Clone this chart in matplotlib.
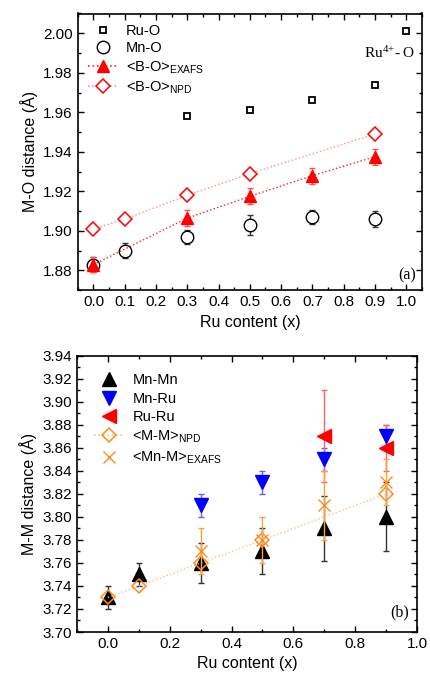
import matplotlib
matplotlib.use("Agg")
import matplotlib.pyplot as plt
from matplotlib.ticker import MultipleLocator
from matplotlib.lines import Line2D

plt.rcParams['font.family'] = ['Liberation Sans', 'DejaVu Sans']
plt.rcParams['mathtext.fontset'] = 'custom'
plt.rcParams['mathtext.rm'] = 'Liberation Sans'

# ---- panel (a) data ----
ruo_x = [0.3, 0.5, 0.7, 0.9, 1.0]
ruo_y = [1.958, 1.961, 1.966, 1.974, 2.001]
ruo_e = [0.001, 0.001, 0.001, 0.001, 0.001]

mno_x = [0.0, 0.1, 0.3, 0.5, 0.7, 0.9]
mno_y = [1.883, 1.890, 1.897, 1.903, 1.907, 1.906]
mno_e = [0.004, 0.0037, 0.0035, 0.005, 0.0037, 0.004]

boex_x = [0.0, 0.3, 0.5, 0.7, 0.9]
boex_y = [1.883, 1.9065, 1.9175, 1.928, 1.9375]
boex_e = [0.004, 0.004, 0.004, 0.004, 0.004]

bonpd_x = [0.0, 0.1, 0.3, 0.5, 0.9]
bonpd_y = [1.901, 1.906, 1.918, 1.929, 1.949]

# ---- panel (b) data ----
mnmn_x = [0.0, 0.1, 0.3, 0.5, 0.7, 0.9]
mnmn_y = [3.73, 3.75, 3.76, 3.77, 3.79, 3.80]
mnmn_e = [0.01, 0.01, 0.017, 0.02, 0.028, 0.03]

mnru_x = [0.3, 0.5, 0.7, 0.9]
mnru_y = [3.81, 3.83, 3.85, 3.87]
mnru_e = [0.01, 0.01, 0.01, 0.01]

ruru_x = [0.7, 0.9]
ruru_y = [3.87, 3.86]
ruru_e = [0.04, 0.02]

mmnpd_x = [0.0, 0.1, 0.3, 0.5, 0.9]
mmnpd_y = [3.73, 3.74, 3.76, 3.78, 3.82]

mnmex_x = [0.3, 0.5, 0.7, 0.9]
mnmex_y = [3.77, 3.78, 3.81, 3.83]
mnmex_e = [0.02, 0.02, 0.03, 0.02]

fig = plt.figure(figsize=(4.3, 6.75), dpi=100)
ax1 = fig.add_axes([0.181, 0.570, 0.800, 0.410])
ax2 = fig.add_axes([0.179, 0.0637, 0.791, 0.409])

orange = '#FF8C1A'
cs = 2.5

# panel a
ax1.errorbar(ruo_x, ruo_y, yerr=ruo_e, fmt='s', ms=5, mfc='white', mec='black',
             mew=1.3, ecolor='#333333', elinewidth=1, capsize=cs, zorder=3)
ax1.errorbar(mno_x, mno_y, yerr=mno_e, fmt='o', ms=9, mfc='white', mec='black',
             mew=1.0, ecolor='#333333', elinewidth=1, capsize=cs, zorder=3)
ax1.errorbar(boex_x, boex_y, yerr=boex_e, fmt='^', ls=':', lw=1, color='#FF2020',
             ms=9, mfc='red', mec='red', ecolor='#FF5050', elinewidth=1, capsize=cs,
             zorder=4)
ax1.plot(bonpd_x, bonpd_y, marker='D', ls=':', lw=1, color='#FF9090', ms=7,
         mfc='white', mec='red', mew=1.1, zorder=3)

h1 = [
    Line2D([], [], ls='none', marker='s', ms=5, mfc='white', mec='black', mew=1.3),
    Line2D([], [], ls='none', marker='o', ms=9, mfc='white', mec='black', mew=1.0),
    Line2D([], [], ls=':', lw=1.2, color='#FF2020', marker='^', ms=9, mfc='red', mec='red'),
    Line2D([], [], ls=':', lw=1.2, color='#FF9090', marker='D', ms=7, mfc='white', mec='red', mew=1.1),
]
l1 = ['Ru-O', 'Mn-O', r'<B-O>$_{\mathregular{EXAFS}}$', r'<B-O>$_{\mathregular{NPD}}$']

ax1.set_xlim(-0.05, 1.05)
ax1.set_ylim(1.87, 2.01)
ax1.xaxis.set_major_locator(MultipleLocator(0.1))
ax1.xaxis.set_minor_locator(MultipleLocator(0.05))
ax1.yaxis.set_major_locator(MultipleLocator(0.02))
ax1.yaxis.set_minor_locator(MultipleLocator(0.01))
ax1.set_xlabel('Ru content (x)', fontsize=11.5)
ax1.set_ylabel('M-O distance (Å)', fontsize=11.5)
ax1.text(1.03, 1.990, r'Ru$^{\mathregular{4{+}}}$- O', family='Liberation Serif', fontsize=11,
         ha='right', va='center', math_fontfamily='stix')
ax1.text(1.03, 1.8775, '(a)', family='Liberation Serif', fontsize=11.5,
         ha='right', va='center')
ax1.legend(h1, l1, loc='upper left', frameon=False, fontsize=10.5, handlelength=2.0,
           borderaxespad=0.3, labelspacing=0.25, handletextpad=0.6)

# panel b
ax2.errorbar(mnmn_x, mnmn_y, yerr=mnmn_e, fmt='^', ms=10, color='black',
             ecolor='#333333', elinewidth=1, capsize=cs, zorder=3)
ax2.errorbar(mnru_x, mnru_y, yerr=mnru_e, fmt='v', ms=10, color='#0000FF',
             ecolor='#6060FF', elinewidth=1, capsize=cs, zorder=3)
ax2.errorbar(ruru_x, ruru_y, yerr=ruru_e, fmt='<', ms=10, color='#FF0000',
             ecolor='#FF6060', elinewidth=1, capsize=cs, zorder=3)
ax2.plot(mmnpd_x, mmnpd_y, marker='D', ls=':', lw=1, color='#FFC080', ms=7,
         mfc='none', mec=orange, mew=1.1, zorder=4)
ax2.errorbar(mnmex_x, mnmex_y, yerr=mnmex_e, fmt='x', ms=9, color=orange, mew=1.0,
             ecolor='#FFA040', elinewidth=1, capsize=cs, zorder=4)

h2 = [
    Line2D([], [], ls='none', marker='^', ms=10, color='black'),
    Line2D([], [], ls='none', marker='v', ms=10, color='#0000FF'),
    Line2D([], [], ls='none', marker='<', ms=10, color='#FF0000'),
    Line2D([], [], ls=':', lw=1.2, color='#FFC080', marker='D', ms=7, mfc='none', mec=orange, mew=1.1),
    Line2D([], [], ls='none', marker='x', ms=9, color=orange, mew=1.0),
]
l2 = ['Mn-Mn', 'Mn-Ru', 'Ru-Ru', r'<M-M>$_{\mathregular{NPD}}$', r'<Mn-M>$_{\mathregular{EXAFS}}$']

ax2.set_xlim(-0.1, 1.0)
ax2.set_ylim(3.70, 3.94)
ax2.xaxis.set_major_locator(MultipleLocator(0.2))
ax2.xaxis.set_minor_locator(MultipleLocator(0.1))
ax2.yaxis.set_major_locator(MultipleLocator(0.02))
ax2.yaxis.set_minor_locator(MultipleLocator(0.01))
ax2.set_xlabel('Ru content (x)', fontsize=11.5)
ax2.set_ylabel('M-M distance (Å)', fontsize=11.5)
ax2.text(0.975, 3.717, '(b)', family='Liberation Serif', fontsize=11.5,
         ha='right', va='center')
ax2.legend(h2, l2, loc='upper left', frameon=False, fontsize=10.5, handlelength=2.0,
           borderaxespad=0.8, labelspacing=0.3, handletextpad=0.6)

for ax in (ax1, ax2):
    ax.tick_params(which='both', direction='in', top=True, right=True, labelsize=11)
    ax.tick_params(which='major', length=4, width=1)
    ax.tick_params(which='minor', length=2.5, width=1)
    for s in ax.spines.values():
        s.set_linewidth(1.2)

fig.savefig('out.png', dpi=100)
